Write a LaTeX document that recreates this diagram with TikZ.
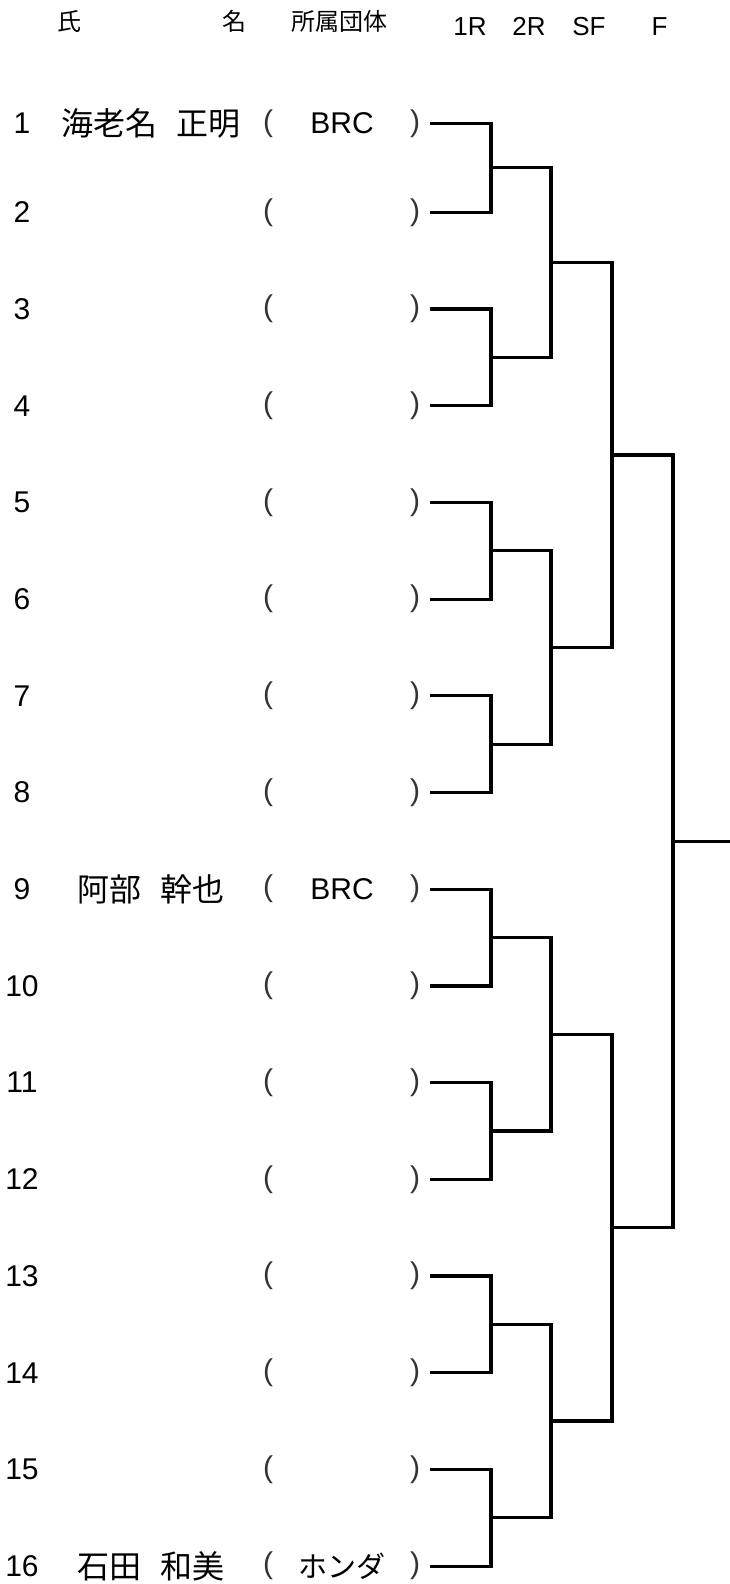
\documentclass[tikz,border=0pt]{standalone}
\usepackage{fontspec}
\setmainfont{Liberation Sans}
\newfontfamily\jpfont{Noto Sans CJK JP}
\usetikzlibrary{calc}

\tikzset{
	num/.style={font=\fontsize{30}{32}\selectfont},
	player/.style={font=\jpfont\fontsize{32}{34}\selectfont},
	club/.style={font=\fontsize{30}{32}\selectfont},
	clubjp/.style={font=\jpfont\fontsize{29}{31}\selectfont},
	paren/.style={font=\fontsize{30}{32}\selectfont,text=black!80},
	head/.style={font=\jpfont\fontsize{24}{26}\selectfont},
	roundname/.style={font=\fontsize{26}{28}\selectfont},
	bracket/.style={line width=3.2pt},
}

\begin{document}
\begin{tikzpicture}[x=1pt,y=-1pt]
		%
		\useasboundingbox (0,0) rectangle (730,1584);
		%
		\node[head] (hname1) at (69,21.5) {氏};
		\node[head] (hname2) at (234,21.5) {名};
		\node[head] (hclub) at (339,21.5) {所属団体};
		\node[roundname] (h1R) at (470,26.5) {1R};
		\node[roundname] (h2R) at (529,26.5) {2R};
		\node[roundname] (hSF) at (589,26.5) {SF};
		\node[roundname] (hF) at (659.5,26.5) {F};
		%
		\node[num] (n1) at (22,123.3) {1}; \node[paren] (lp1) at (268,123.3) {(}; \node[paren] (rp1) at (415,123.3) {)};
		\node[num] (n2) at (22,212.3) {2}; \node[paren] (lp2) at (268,212.3) {(}; \node[paren] (rp2) at (415,212.3) {)};
		\node[num] (n3) at (22,309.0) {3}; \node[paren] (lp3) at (268,309.0) {(}; \node[paren] (rp3) at (415,309.0) {)};
		\node[num] (n4) at (22,405.7) {4}; \node[paren] (lp4) at (268,405.7) {(}; \node[paren] (rp4) at (415,405.7) {)};
		\node[num] (n5) at (22,502.4) {5}; \node[paren] (lp5) at (268,502.4) {(}; \node[paren] (rp5) at (415,502.4) {)};
		\node[num] (n6) at (22,599.1) {6}; \node[paren] (lp6) at (268,599.1) {(}; \node[paren] (rp6) at (415,599.1) {)};
		\node[num] (n7) at (22,695.8) {7}; \node[paren] (lp7) at (268,695.8) {(}; \node[paren] (rp7) at (415,695.8) {)};
		\node[num] (n8) at (22,792.5) {8}; \node[paren] (lp8) at (268,792.5) {(}; \node[paren] (rp8) at (415,792.5) {)};
		\node[num] (n9) at (22,889.2) {9}; \node[paren] (lp9) at (268,889.2) {(}; \node[paren] (rp9) at (415,889.2) {)};
		\node[num] (n10) at (22,985.9) {10}; \node[paren] (lp10) at (268,985.9) {(}; \node[paren] (rp10) at (415,985.9) {)};
		\node[num] (n11) at (22,1082.6) {11}; \node[paren] (lp11) at (268,1082.6) {(}; \node[paren] (rp11) at (415,1082.6) {)};
		\node[num] (n12) at (22,1179.3) {12}; \node[paren] (lp12) at (268,1179.3) {(}; \node[paren] (rp12) at (415,1179.3) {)};
		\node[num] (n13) at (22,1276.0) {13}; \node[paren] (lp13) at (268,1276.0) {(}; \node[paren] (rp13) at (415,1276.0) {)};
		\node[num] (n14) at (22,1372.7) {14}; \node[paren] (lp14) at (268,1372.7) {(}; \node[paren] (rp14) at (415,1372.7) {)};
		\node[num] (n15) at (22,1469.4) {15}; \node[paren] (lp15) at (268,1469.4) {(}; \node[paren] (rp15) at (415,1469.4) {)};
		\node[num] (n16) at (22,1566.1) {16}; \node[paren] (lp16) at (268,1566.1) {(}; \node[paren] (rp16) at (415,1566.1) {)};
		%
		\node[player] (pl1) at (151,123.3) {海老名\hspace{.6em}正明}; \node[club] (cl1) at (342,123.3) {BRC};
		\node[player] (pl9) at (151,889.2) {阿部\hspace{.6em}幹也}; \node[club] (cl9) at (342,889.2) {BRC};
		\node[player] (pl16) at (151,1566.1) {石田\hspace{.6em}和美}; \node[clubjp] (cl16) at (342,1566.1) {ホンダ};
		%
		\foreach \i in {1,...,16} {
			\coordinate (s\i) at ([xshift=15pt]rp\i.center);
		}
		\coordinate (x1) at (491,0); \coordinate (x2) at (551,0);
		\coordinate (x3) at (612,0); \coordinate (x4) at (673,0); \coordinate (x5) at (730,0);
		%
		\draw[bracket] (s1) -- (s1 -| x1) |- (s2); \coordinate (p1) at ($(s1 -| x1)!.5!(s2 -| x1)$);
		\draw[bracket] (s3) -- (s3 -| x1) |- (s4); \coordinate (p2) at ($(s3 -| x1)!.5!(s4 -| x1)$);
		\draw[bracket] (s5) -- (s5 -| x1) |- (s6); \coordinate (p3) at ($(s5 -| x1)!.5!(s6 -| x1)$);
		\draw[bracket] (s7) -- (s7 -| x1) |- (s8); \coordinate (p4) at ($(s7 -| x1)!.5!(s8 -| x1)$);
		\draw[bracket] (s9) -- (s9 -| x1) |- (s10); \coordinate (p5) at ($(s9 -| x1)!.5!(s10 -| x1)$);
		\draw[bracket] (s11) -- (s11 -| x1) |- (s12); \coordinate (p6) at ($(s11 -| x1)!.5!(s12 -| x1)$);
		\draw[bracket] (s13) -- (s13 -| x1) |- (s14); \coordinate (p7) at ($(s13 -| x1)!.5!(s14 -| x1)$);
		\draw[bracket] (s15) -- (s15 -| x1) |- (s16); \coordinate (p8) at ($(s15 -| x1)!.5!(s16 -| x1)$);
		%
		\draw[bracket] (p1) -- (p1 -| x2) |- (p2); \coordinate (q1) at ($(p1 -| x2)!.5!(p2 -| x2)$);
		\draw[bracket] (p3) -- (p3 -| x2) |- (p4); \coordinate (q2) at ($(p3 -| x2)!.5!(p4 -| x2)$);
		\draw[bracket] (p5) -- (p5 -| x2) |- (p6); \coordinate (q3) at ($(p5 -| x2)!.5!(p6 -| x2)$);
		\draw[bracket] (p7) -- (p7 -| x2) |- (p8); \coordinate (q4) at ($(p7 -| x2)!.5!(p8 -| x2)$);
		%
		\draw[bracket] (q1) -- (q1 -| x3) |- (q2); \coordinate (h1) at ($(q1 -| x3)!.5!(q2 -| x3)$);
		\draw[bracket] (q3) -- (q3 -| x3) |- (q4); \coordinate (h2) at ($(q3 -| x3)!.5!(q4 -| x3)$);
		%
		\draw[bracket] (h1) -- (h1 -| x4) |- (h2); \coordinate (w) at ($(h1 -| x4)!.5!(h2 -| x4)$);
		\draw[bracket] (w) -- (w -| x5);
		%
\end{tikzpicture}
\end{document}
